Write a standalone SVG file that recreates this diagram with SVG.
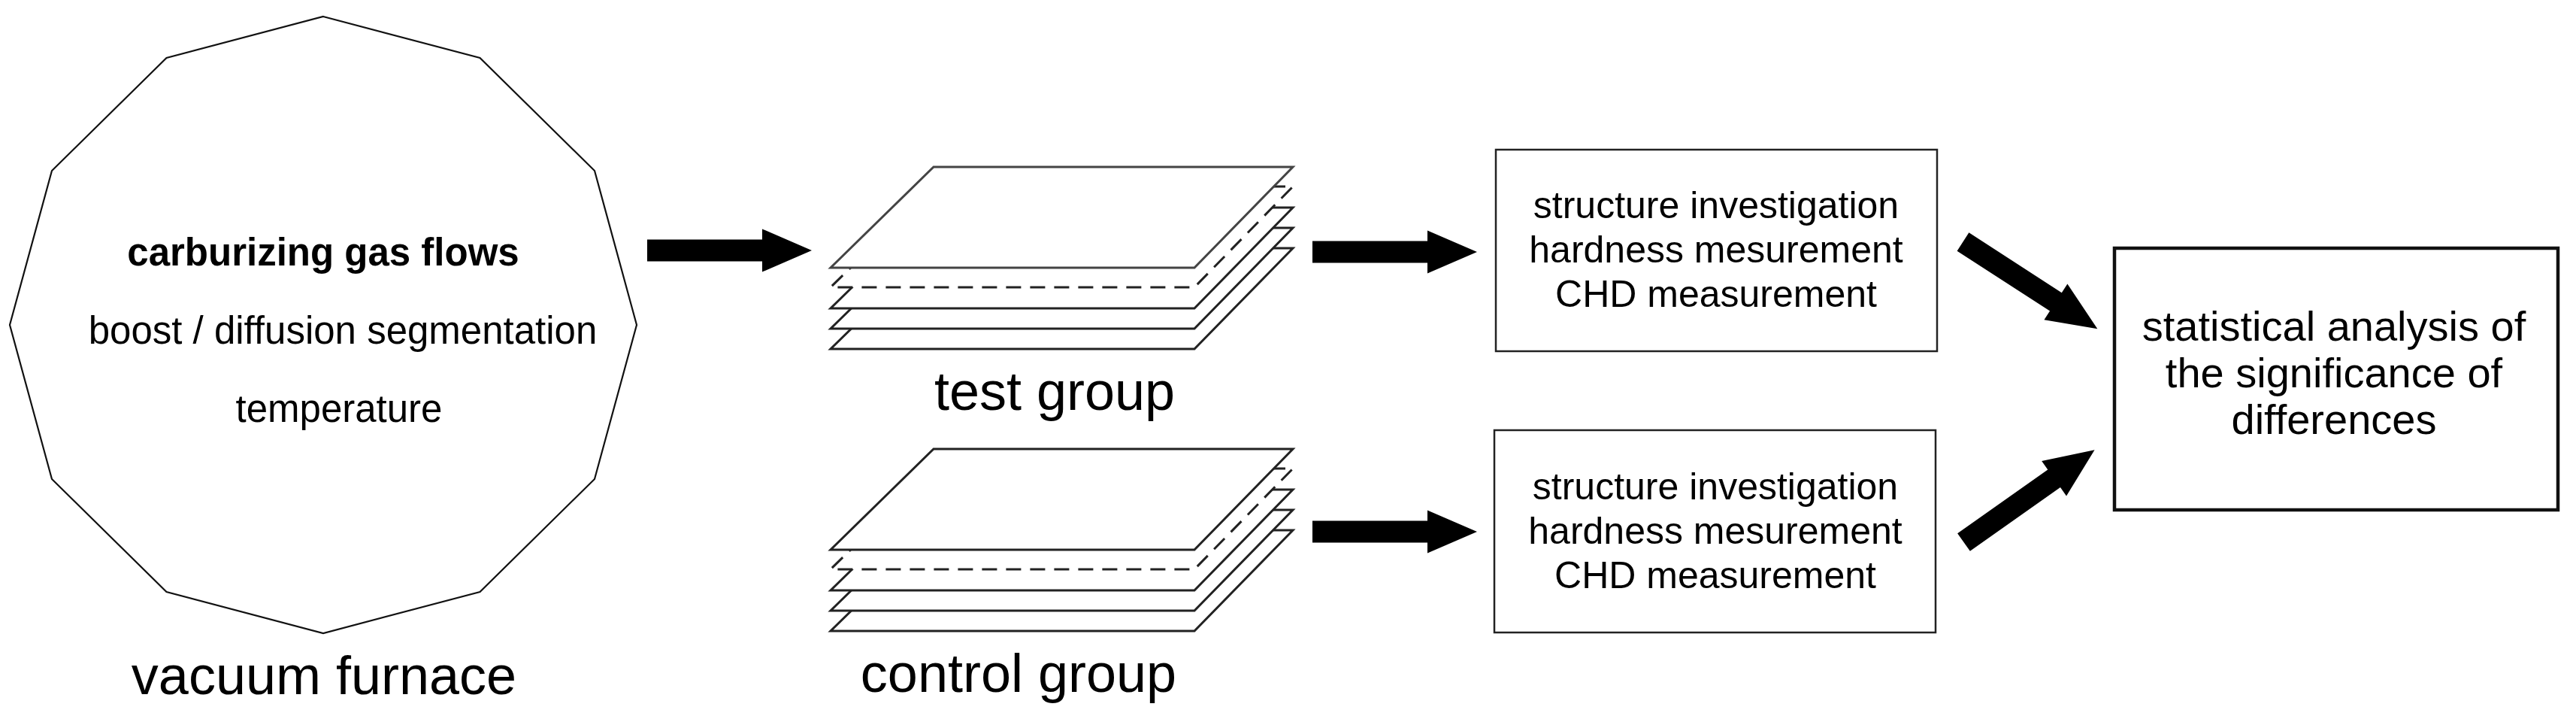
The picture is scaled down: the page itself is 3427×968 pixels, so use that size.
<svg xmlns="http://www.w3.org/2000/svg" xmlns:xlink="http://www.w3.org/1999/xlink" width="3427" height="968" viewBox="0 0 3427 968">
  <style>
    text { font-family: "Liberation Sans", Arial, Helvetica, sans-serif; fill: #000; text-anchor: middle; }
    .furnace-shape { fill: #fff; stroke: #111; stroke-width: 2.2; stroke-linejoin: miter; }
    .ft { font-size: 51px; }
    .ftb { font-size: 51px; font-weight: bold; }
    .label { font-size: 72px; }
    .sheet { fill: #fff; stroke: #222; stroke-width: 3; stroke-linejoin: miter; }
    .top { stroke: #444; }
    .dashed { stroke-dasharray: 20 12; }
    .box { fill: #fff; stroke: #222; stroke-width: 2.5; }
    .box-thick { fill: #fff; stroke: #111; stroke-width: 4.5; }
    .bt { font-size: 50px; }
    .st { font-size: 56px; }
    .arrow { fill: #000; stroke: none; }
  </style>
  <defs>
    <polygon id="sheet" points="137,0 615,0 484,134 0,134"/>
    <path id="arrowH" d="M0,-14.5 L153,-14.5 L153,-28.5 L219,0 L153,28.5 L153,14.5 L0,14.5 Z"/>
    <path id="arrowD" d="M0,-14.5 L147,-14.5 L147,-28.5 L213,0 L147,28.5 L147,14.5 L0,14.5 Z"/>
  </defs>
  <rect x="0" y="0" width="3427" height="968" fill="#fff"/>

  <g id="vacuum-furnace">
    <polygon class="furnace-shape" points="430,22 638.5,77 791,227 847,432 791,637 638.5,787 430,842 221.5,787 69,637 13,432 69,227 221.5,77"/>
    <text class="ftb" x="430" y="353">carburizing gas flows</text>
    <text class="ft" x="456" y="457">boost / diffusion segmentation</text>
    <text class="ft" x="451" y="561">temperature</text>
    <text class="label" x="431" y="923">vacuum furnace</text>
  </g>

  <g id="test-group">
    <use xlink:href="#sheet" class="sheet" transform="translate(1105,330)"/>
    <use xlink:href="#sheet" class="sheet" transform="translate(1105,303)"/>
    <use xlink:href="#sheet" class="sheet" transform="translate(1105,276)"/>
    <use xlink:href="#sheet" class="sheet dashed" transform="translate(1105,248)"/>
    <use xlink:href="#sheet" class="sheet top" transform="translate(1105,222)"/>
    <text class="label" x="1403" y="545">test group</text>
  </g>

  <g id="control-group">
    <use xlink:href="#sheet" class="sheet" transform="translate(1105,705)"/>
    <use xlink:href="#sheet" class="sheet" transform="translate(1105,678)"/>
    <use xlink:href="#sheet" class="sheet" transform="translate(1105,651)"/>
    <use xlink:href="#sheet" class="sheet dashed" transform="translate(1105,623)"/>
    <use xlink:href="#sheet" class="sheet" transform="translate(1105,597)"/>
    <text class="label" x="1355" y="920">control group</text>
  </g>

  <g id="box-test">
    <rect class="box" x="1990" y="199" width="587" height="268"/>
    <text class="bt" x="2283" y="290">structure investigation</text>
    <text class="bt" x="2283" y="349">hardness mesurement</text>
    <text class="bt" x="2283" y="408">CHD measurement</text>
  </g>

  <g id="box-control">
    <rect class="box" x="1988" y="572" width="587" height="269"/>
    <text class="bt" x="2282" y="664">structure investigation</text>
    <text class="bt" x="2282" y="723">hardness mesurement</text>
    <text class="bt" x="2282" y="782">CHD measurement</text>
  </g>

  <g id="box-statistics">
    <rect class="box-thick" x="2813" y="330" width="590" height="348"/>
    <text class="st" x="3105" y="453">statistical analysis of</text>
    <text class="st" x="3105" y="515">the significance of</text>
    <text class="st" x="3105" y="577">differences</text>
  </g>

  <g id="connectors">
    <use xlink:href="#arrowH" class="arrow" transform="translate(861,333)"/>
    <use xlink:href="#arrowH" class="arrow" transform="translate(1746,335)"/>
    <use xlink:href="#arrowH" class="arrow" transform="translate(1746,707)"/>
    <use xlink:href="#arrowD" class="arrow" transform="translate(2611.5,321.5) rotate(32.9)"/>
    <use xlink:href="#arrowD" class="arrow" transform="translate(2612.5,721) rotate(-35.2)"/>
  </g>
</svg>
